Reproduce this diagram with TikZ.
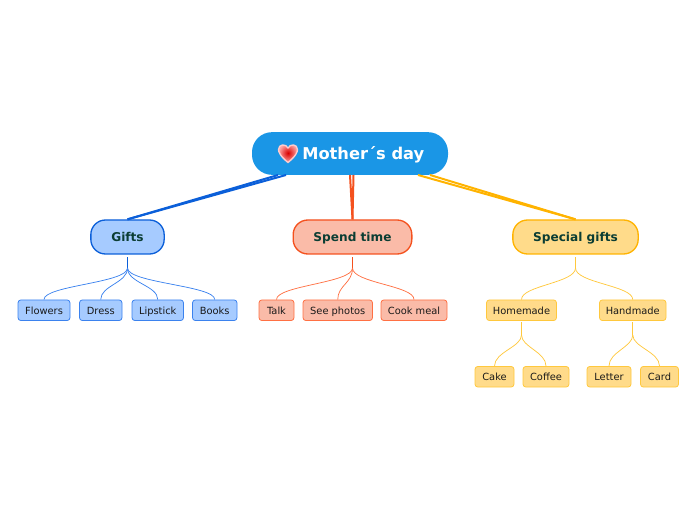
\documentclass[tikz,border=0pt]{standalone}
\usepackage{fontspec}
\setmainfont{DejaVu Sans}
\usetikzlibrary{calc}
\definecolor{rootblue}{HTML}{1A96E6}
\definecolor{blueline}{HTML}{0B5FD9}
\definecolor{bluefill}{HTML}{A6CBFF}
\definecolor{blueleaf}{HTML}{3B82EE}
\definecolor{redline}{HTML}{F4511E}
\definecolor{redfill}{HTML}{FABBA8}
\definecolor{redleaf}{HTML}{FF7043}
\definecolor{yellowline}{HTML}{FFB300}
\definecolor{yellowfill}{HTML}{FFDB8A}
\definecolor{yellowleaf}{HTML}{FFC83D}
\definecolor{maintext}{HTML}{0B3D33}
\tikzstyle{rootnode}=[rectangle,rounded corners=15pt,fill=rootblue,text=white,font=\fontsize{12.2}{15}\selectfont\bfseries,minimum height=32pt,inner sep=0pt,text height=10.7pt,text depth=2.2pt]
\tikzstyle{mainnode}=[rectangle,rounded corners=11pt,line width=1pt,text=maintext,font=\fontsize{9.1}{11}\selectfont\bfseries,minimum height=25.5pt,inner sep=0pt,text height=8.1pt,text depth=1.4pt]
\tikzstyle{leafnode}=[rectangle,rounded corners=2.2pt,line width=0.6pt,text=black!90,font=\fontsize{7.4}{9}\selectfont,minimum height=15.5pt,inner sep=0pt,text height=6.8pt,text depth=1.1pt]
\tikzstyle{spoke} = [draw,line width=1.5pt]
\tikzstyle{trunk} = [draw,line width=0.9pt,shorten <=2pt]
\tikzstyle{twig} = [draw,line width=0.55pt]

\begin{document}
\begin{tikzpicture}[x=0.75pt,y=-0.75pt]
 \useasboundingbox (0,0) rectangle (696,520);

 %main nodes
 \foreach \x/\y/\w/\cl/\cf/\name/\label in {127.5/237/55/blueline/bluefill/gifts/Gifts, 352.5/237/89/redline/redfill/spend/Spend time, 575.5/237/94/yellowline/yellowfill/special/Special gifts}
    \node[mainnode,draw=\cl,fill=\cf,minimum width=\w pt] (\name) at (\x,\y) {\label};

 %root
 \node[rootnode,minimum width=147pt] (root) at (350,153.5) {\hspace{20pt}Mother´s day};

 %spokes
 \coordinate (ga) at (286,175);
 \coordinate (gb) at (278,175);
 \coordinate (sa) at (353.5,175);
 \coordinate (sb) at (350,175);
 \coordinate (ya) at (418,175);
 \coordinate (yb) at (430,175);
 \foreach \dest/\a/\b/\cl in {gifts/ga/gb/blueline, spend/sa/sb/redline, special/ya/yb/yellowline} {
    \path[spoke,draw=\cl] (\a) -- (\dest.north);
    \path[spoke,draw=\cl] (\b) -- (\dest.north);
 }

 %Gifts
 \foreach \x/\w/\name/\label in {44/52/flowers/Flowers, 100.75/42.5/dress/Dress, 157.75/51.5/lipstick/Lipstick, 214.75/44.5/books/Books}
    \node[leafnode,draw=blueleaf,fill=bluefill,minimum width=0.75*\w pt] (\name) at (\x,310.25) {\label};
 \coordinate (gsplit) at (127.5,268);
 \path[trunk,draw=blueline] (gifts.south) -- (gsplit);
 \foreach \dest in {flowers,dress,lipstick,books}
    \path[twig,draw=blueleaf] (gsplit) .. controls ($(gsplit)+(0,15)$) and ($(\dest.north)+(0,-14)$) .. (\dest.north);

 %Spend time
 \foreach \x/\w/\name/\label in {276.5/35/talk/Talk, 337.75/69.5/photos/See photos, 414/66/cook/Cook meal}
    \node[leafnode,draw=redleaf,fill=redfill,minimum width=0.75*\w pt] (\name) at (\x,310.25) {\label};
 \coordinate (ssplit) at (352.5,268);
 \path[trunk,draw=redline] (spend.south) -- (ssplit);
 \foreach \dest in {talk,photos,cook}
    \path[twig,draw=redleaf] (ssplit) .. controls ($(ssplit)+(0,15)$) and ($(\dest.north)+(0,-14)$) .. (\dest.north);

 %Special gifts
 \foreach \x/\w/\name/\label in {521.5/70/homemade/Homemade, 632.75/66.5/handmade/Handmade}
    \node[leafnode,draw=yellowleaf,fill=yellowfill,minimum width=0.75*\w pt] (\name) at (\x,310.25) {\label};
 \foreach \x/\w/\name/\label in {494.5/39/cake/Cake, 546/46/coffee/Coffee, 609/44/letter/Letter, 659.5/38/card/Card}
    \node[leafnode,draw=yellowleaf,fill=yellowfill,minimum width=0.75*\w pt] (\name) at (\x,376.75) {\label};
 \coordinate (ysplit) at (575.5,268);
 \path[trunk,draw=yellowleaf] (special.south) -- (ysplit);
 \foreach \dest in {homemade,handmade}
    \path[twig,draw=yellowleaf] (ysplit) .. controls ($(ysplit)+(0,15)$) and ($(\dest.north)+(0,-14)$) .. (\dest.north);

 \foreach \src/\c/\d in {homemade/cake/coffee, handmade/letter/card} {
    \coordinate (hsplit) at ($(\src.south)+(0,14)$);
    \path[trunk,draw=yellowleaf,shorten <=1pt] (\src.south) -- (hsplit);
    \foreach \dest in {\c,\d}
       \path[twig,draw=yellowleaf] (hsplit) .. controls ($(hsplit)+(0,12)$) and ($(\dest.north)+(0,-14)$) .. (\dest.north);
 }

 %heart
 \path[draw=red!20!white,line width=1pt,inner color=red!85!black,outer color=red!35!white] (288,162.5) .. controls (280,156) and (278.5,152) .. (278.5,149.5) .. controls (278.5,144) and (286,143.5) .. (288,148) .. controls (290,143.5) and (297.5,144) .. (297.5,149.5) .. controls (297.5,152) and (296,156) .. (288,162.5) -- cycle;
\end{tikzpicture}
\end{document}
